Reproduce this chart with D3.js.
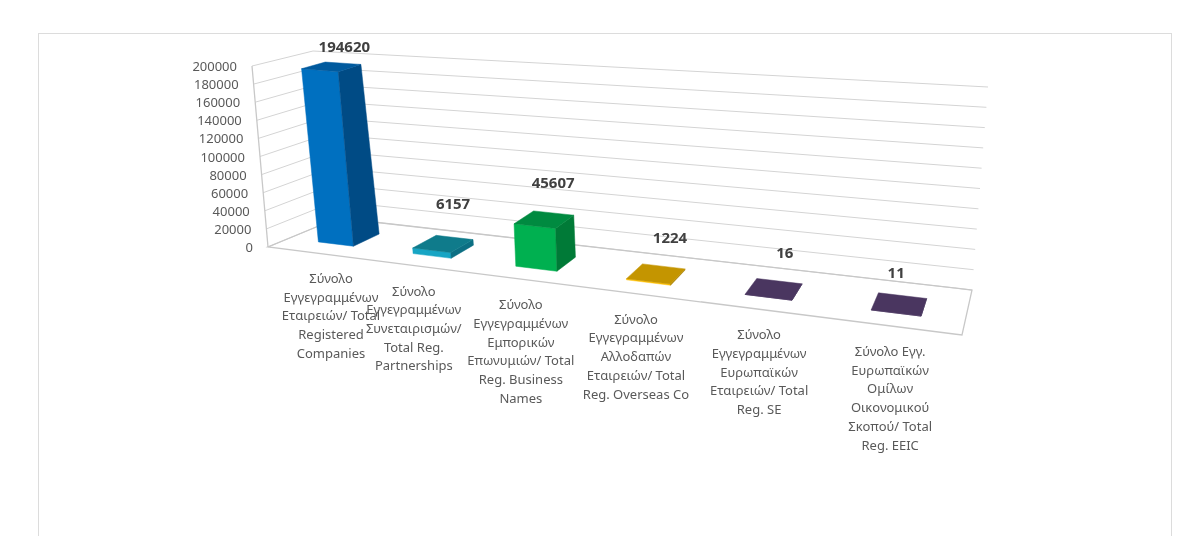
<!DOCTYPE html>
<html>
<head>
<meta charset="utf-8">
<script src="https://cdn.jsdelivr.net/npm/d3@7"></script>
<style>
  html, body { margin: 0; padding: 0; background: #fff; }
  svg { display: block; font-family: "Noto Sans", sans-serif; }
  .soft { filter: blur(0.7px); }
</style>
</head>
<body>
<div id="chart"></div>
<script>
// Chart data
var categories = ["companies", "partnerships", "businessNames", "overseas", "se", "eeic"];
var values = [194620, 6157, 45607, 1224, 16, 11];
var categoryLines = [
  ["Σύνολο", "Εγγεγραμμένων", "Εταιρειών/ Total", "Registered", "Companies"],
  ["Σύνολο", "Εγγεγραμμένων", "Συνεταιρισμών/", "Total Reg.", "Partnerships"],
  ["Σύνολο", "Εγγεγραμμένων", "Εμπορικών", "Επωνυμιών/ Total", "Reg. Business", "Names"],
  ["Σύνολο", "Εγγεγραμμένων", "Αλλοδαπών", "Εταιρειών/ Total", "Reg. Overseas Co"],
  ["Σύνολο", "Εγγεγραμμένων", "Ευρωπαϊκών", "Εταιρειών/ Total", "Reg. SE"],
  ["Σύνολο Εγγ.", "Ευρωπαϊκών", "Ομίλων", "Οικονομικού", "Σκοπού/ Total", "Reg. EEIC"]
];

// Face colours per bar
var frontColors = ["#0070c0", "#17a5c4", "#00b050", "#ffc000", "#4a3660", "#4a3660"];
var sideColors = ["#004b85", "#0c6f83", "#007a37", "#a67f00", "#33254a", "#33254a"];
var topColors = ["#005a9e", "#0f7b8b", "#008a40", "#c49500", "#4a3660", "#4a3660"];

// Excel places its value labels a bit unevenly
var valueLabelDx = [13, 10, 9, 14, 11, -3];
var valueLabelDy = [-30, -35, -32, -31, -31, -26];

var svgWidth = 1200;
var svgHeight = 536;

// Corners of the 3D box as they land on the screen
var floorFL = [268, 247], floorFR = [962, 335], floorBL = [338, 218], floorBR = [972, 290];
var topFL = [252, 66], topFR = [975, 130], topBL = [313, 51], topBR = [988, 87];

function bilinear(a, b, c, d, u, v) {
  return [0, 1].map(function(i) {
    var front = a[i] + (b[i] - a[i]) * u;
    var back = c[i] + (d[i] - c[i]) * u;
    return front + (back - front) * v;
  });
}

// u along the categories, v into the depth, h up the wall
function project(u, v, h) {
  var p = bilinear(floorFL, floorFR, floorBL, floorBR, u, v);
  var t = bilinear(topFL, topFR, topBL, topBR, u, v);
  return [p[0] + (t[0] - p[0]) * h, p[1] + (t[1] - p[1]) * h];
}

// Bars get wider to the right, so stretch the category axis a little
function warp(u) {
  return 0.8 * u + 0.2 * u * u + 0.006 * Math.pow(1 - u, 3) - 0.0035;
}

var xScale = d3.scaleBand().domain(categories).range([0, 1]).paddingInner(0.62).paddingOuter(0.31);
var yScale = d3.scaleLinear().domain([0, 200000]).range([0, 1]);
var v0 = 0.3, v1 = 0.7;

var svg = d3.select("#chart").append("svg")
  .attr("width", svgWidth)
  .attr("height", svgHeight);

// Card border, runs off the bottom of the window
svg.append("rect")
  .attr("x", 38.5).attr("y", 33.5)
  .attr("width", 1133).attr("height", 540)
  .attr("fill", "#fff")
  .attr("stroke", "#dcdcdc");

var chartGroup = svg.append("g").attr("class", "soft");
var polyLine = d3.line();
var ticks = yScale.ticks(10);

// Gridlines on the left and back walls
ticks.forEach(function(t) {
  var h = yScale(t);
  chartGroup.append("path")
    .attr("d", polyLine([project(0, 0, h), project(0, 1, h), project(1, 1, h)]))
    .attr("fill", "none")
    .attr("stroke", "#d4d4d4")
    .attr("stroke-width", 1);
});

// Floor outline and front wall edge
chartGroup.append("path")
  .attr("d", polyLine([floorBL, floorFL, floorFR, floorBR, floorBL]))
  .attr("fill", "none")
  .attr("stroke", "#c8c8c8")
  .attr("stroke-width", 1.3);
chartGroup.append("path")
  .attr("d", polyLine([floorFL, topFL]))
  .attr("fill", "none")
  .attr("stroke", "#c8c8c8")
  .attr("stroke-width", 1.3);

// Y axis tick labels
chartGroup.selectAll(".tick-label")
  .data(ticks)
  .enter()
  .append("text")
  .attr("class", "tick-label")
  .attr("x", d => project(0, 0, yScale(d))[0] - 15)
  .attr("y", d => project(0, 0, yScale(d))[1] + 5)
  .attr("text-anchor", "end")
  .attr("font-size", "13px")
  .attr("fill", "#595959")
  .text(d => d3.format("d")(d));

// Bars, each one a front, side and top face
values.forEach(function(value, i) {
  var u0 = warp(xScale(categories[i]));
  var u1 = warp(xScale(categories[i]) + xScale.bandwidth());
  var h = yScale(value);
  var faces = [
    { fill: frontColors[i], pts: [project(u0, v0, 0), project(u1, v0, 0), project(u1, v0, h), project(u0, v0, h)] },
    { fill: sideColors[i], pts: [project(u1, v0, 0), project(u1, v1, 0), project(u1, v1, h), project(u1, v0, h)] },
    { fill: topColors[i], pts: [project(u0, v0, h), project(u1, v0, h), project(u1, v1, h), project(u0, v1, h)] }
  ];
  chartGroup.append("g").selectAll("path")
    .data(faces)
    .enter()
    .append("path")
    .attr("d", d => polyLine(d.pts) + "Z")
    .attr("fill", d => d.fill)
    .attr("stroke", d => d.fill)
    .attr("stroke-width", 0.5);
});

// Value labels above each bar, held inside the chart area at the top
chartGroup.selectAll(".value-label")
  .data(values)
  .enter()
  .append("text")
  .attr("class", "value-label")
  .attr("x", function(d, i) {
    var u = warp(xScale(categories[i]) + xScale.bandwidth() / 2);
    return project(u, 0.5, yScale(d))[0] + valueLabelDx[i];
  })
  .attr("y", function(d, i) {
    var u = warp(xScale(categories[i]) + xScale.bandwidth() / 2);
    return Math.max(52, project(u, 0.5, yScale(d))[1] + valueLabelDy[i]);
  })
  .attr("text-anchor", "middle")
  .attr("font-size", "15px")
  .attr("font-weight", "bold")
  .attr("fill", "#404040")
  .text(d => d);

// Wrapped category labels below the floor
var labels = chartGroup.selectAll(".category-label")
  .data(categoryLines)
  .enter()
  .append("text")
  .attr("class", "category-label")
  .attr("text-anchor", "middle")
  .attr("font-size", "13px")
  .attr("fill", "#595959")
  .attr("transform", function(d, i) {
    var u = warp(xScale(categories[i]) + xScale.bandwidth() / 2);
    var p = project(u, 0, 0);
    return `translate(${p[0] + (i === 0 ? 15 : -1)}, ${p[1] + 30})`;
  });

labels.selectAll("tspan")
  .data(d => d)
  .enter()
  .append("tspan")
  .attr("x", 0)
  .attr("y", (d, i) => i * 18.7)
  .text(d => d);
</script>
</body>
</html>
